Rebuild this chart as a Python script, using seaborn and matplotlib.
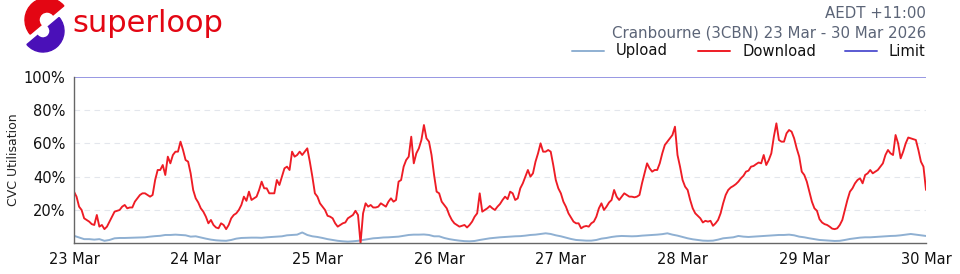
import numpy as np
import pandas as pd
import matplotlib
matplotlib.use("Agg")
import matplotlib.pyplot as plt
import matplotlib.dates as mdates
from matplotlib.patches import Wedge
from matplotlib.lines import Line2D
import seaborn as sns

# ---------------- data (half-hourly download %, hourly upload %) ----------------
download_d1 = [31, 28, 22, 20, 15, 14, 13, 11.5, 11, 17, 10, 11, 8.5, 10, 13, 16,
               19, 19.5, 20, 22, 23, 21, 21.5, 21.5, 25, 27, 29, 30, 30, 29, 28, 29,
               38, 44, 44, 47, 41, 52, 48, 53, 55, 55, 61, 56, 50, 49, 42, 32]
download_d2 = [27, 24.5, 21, 19, 16, 12, 14, 11, 9.5, 9, 12, 11, 8.5, 11, 15, 17,
               18, 20, 23, 28, 25.5, 31, 26, 27, 28, 32, 37, 33, 33, 30, 30, 30,
               38, 35, 40, 45, 46, 44, 55, 52, 53, 55, 53, 55, 57, 49, 40, 30]
download_d3 = [28, 24, 22, 20, 16.5, 16, 15, 12, 10, 11, 12, 12.5, 15, 16, 17, 19.5,
               17, 0, 18, 24, 22, 23, 21.5, 21.5, 22, 24, 23, 22, 25, 27, 25, 26,
               37, 38, 46, 50, 52, 64, 48, 54, 57, 62, 71, 63, 61, 53, 41, 31]
download_d4 = [30, 25, 23, 21, 17, 14, 12, 11, 10, 10.5, 11, 9.5, 11, 13, 16, 18,
               30, 19, 20, 21, 22.4, 21, 20, 22, 23.6, 26, 28, 26.5, 31, 30, 26, 27,
               33, 36, 40, 44, 40, 42, 49, 54, 60, 55, 55, 56, 55, 47, 38, 33]
download_d5 = [30, 25, 22, 18, 15.5, 13, 12, 12, 9, 10, 10.4, 10, 12, 13, 16, 21,
               24, 20, 22, 24.5, 26, 32, 28, 26, 28, 30, 29, 28, 28, 27.6, 28, 29,
               36, 42, 48, 45, 43, 44, 44, 48, 54, 59, 61, 63, 65, 70, 53, 46]
download_d6 = [38, 34, 32, 26, 21, 18, 16.5, 15, 12.5, 13.5, 13, 13.5, 10.5, 12, 14, 18,
               24, 29, 32, 33.5, 34.4, 35.5, 37, 39, 40.5, 43, 43.6, 46, 46.4, 47.5, 48.5, 48,
               53, 47, 50, 54, 64, 72, 62, 61, 61, 66, 68, 67, 63, 57, 52, 43]
download_d7 = [41, 37, 31, 25, 21, 19.5, 14.5, 12.5, 11.5, 11, 10, 8.8, 8.5, 9, 11, 14,
               20, 26, 31, 33, 36, 38, 39, 36, 41, 42, 44, 42, 43, 44, 46, 48,
               53, 56, 54, 53, 65, 60, 51, 55, 60, 63.5, 63, 62.5, 62, 56, 49, 46, 32]

upload_d1 = [4.5, 3.5, 2.5, 2.5, 2.2, 2.5, 1.5, 2, 3, 3.2, 3.2, 3.3,
             3.4, 3.5, 3.6, 4, 4.3, 4.5, 5, 5, 5.2, 5, 4.8, 4]
upload_d2 = [4.2, 3.5, 2.8, 2.2, 1.8, 1.6, 1.5, 2, 2.8, 3.2, 3.3, 3.4,
             3.4, 3.3, 3.6, 3.8, 4, 4.2, 4.8, 5, 5.2, 6.5, 5, 4.2]
upload_d3 = [3.8, 3.2, 2.5, 2, 1.5, 1.2, 1, 1.2, 1.5, 2, 2.5, 3,
             3.2, 3.5, 3.6, 3.8, 4, 4.5, 5, 5.2, 5.2, 5.3, 5, 4.2]
upload_d4 = [4.2, 3.2, 2.5, 2, 1.6, 1.3, 1.2, 1.4, 2, 2.5, 3, 3.3,
             3.6, 3.8, 4, 4.2, 4.3, 4.6, 5, 5.2, 5.6, 6, 5.6, 4.8]
upload_d5 = [4.2, 3.4, 2.6, 2, 1.8, 1.6, 1.6, 2, 2.8, 3.2, 3.8, 4.2,
             4.4, 4.3, 4.2, 4.3, 4.6, 4.8, 5, 5.2, 5.5, 6, 5.2, 4.6]
upload_d6 = [3.8, 3, 2.4, 2, 1.6, 1.5, 1.6, 2.2, 3, 3.3, 3.6, 4.4,
             4, 3.8, 4, 4.2, 4.4, 4.6, 4.8, 5, 5, 5.2, 4.8, 4]
upload_d7 = [3.6, 3, 2.5, 2, 1.8, 1.6, 1.4, 1.5, 2, 2.6, 3, 3.4,
             3.6, 3.6, 3.8, 4, 4.2, 4.4, 4.5, 4.8, 5.2, 5.6, 5.2, 4.8, 4.4]

limit_value = 100
y_ticks = [20, 40, 60, 80, 100]
start_date = "2026-03-23"
end_date = "2026-03-30"
title_tz = "AEDT +11:00"
title_site = "Cranbourne (3CBN) 23 Mar - 30 Mar 2026"
y_label = "CVC Utilisation"
series_names = ["Upload", "Download", "Limit"]

download = (download_d1 + download_d2 + download_d3 + download_d4 +
            download_d5 + download_d6 + download_d7)
upload = (upload_d1 + upload_d2 + upload_d3 + upload_d4 +
          upload_d5 + upload_d6 + upload_d7)

dl_df = pd.DataFrame({
    "time": pd.date_range(start_date, periods=len(download), freq="30min"),
    "value": download,
})
ul_df = pd.DataFrame({
    "time": pd.date_range(start_date, periods=len(upload), freq="60min"),
    "value": upload,
})

# ---------------- styling ----------------
sns.set_theme(style="white", font="DejaVu Sans")
plt.rcParams["font.family"] = ["DejaVu Sans"]
plt.rcParams["font.sans-serif"] = ["DejaVu Sans"]

c_up = "#8fb0d2"
c_dn = "#ee1c25"
c_lim = "#5a5ad2"
W, H = 960.0, 274.0

fig = plt.figure(figsize=(9.6, 2.74), dpi=100)
ax = fig.add_axes([74 / W, 1 - 243.3 / H, (926 - 74) / W, (243.3 - 76.7) / H])

sns.lineplot(data=ul_df, x="time", y="value", ax=ax, color=c_up, lw=1.4)
sns.lineplot(data=dl_df, x="time", y="value", ax=ax, color=c_dn, lw=1.35)
ax.axhline(limit_value, color=c_lim, lw=1.1, alpha=0.8)

ax.set_xlim(pd.Timestamp(start_date), pd.Timestamp(end_date))
ax.set_ylim(0, 100)
ax.set_yticks(y_ticks)
ax.set_yticklabels([f"{v}%" for v in y_ticks])
ax.xaxis.set_major_locator(mdates.DayLocator())
ax.xaxis.set_major_formatter(mdates.DateFormatter("%d %b"))
ax.set_xlabel("")
ax.set_ylabel(y_label, fontsize=9, color="#222222", labelpad=3)
ax.tick_params(axis="x", labelsize=10.5, length=4, width=0.8, color="#444444",
               pad=2, labelcolor="#111111")
ax.tick_params(axis="y", labelsize=10.5, length=0, pad=6, labelcolor="#111111")
for gv in y_ticks[:-1]:
    ax.axhline(gv, color="#e3e6ec", lw=0.8, ls=(0, (5, 4)), zorder=0)
for s in ["top", "right"]:
    ax.spines[s].set_visible(False)
for s in ["left", "bottom"]:
    ax.spines[s].set_color("#666666")
    ax.spines[s].set_linewidth(1.0)

# ---------------- header texts ----------------
fig.text(926 / W, 1 - 14 / H, title_tz, ha="right", va="center", fontsize=10.8, color="#5b6477")
fig.text(926 / W, 1 - 33 / H, title_site, ha="right", va="center", fontsize=10.8, color="#5b6477")

# manual legend (layout positions only)
legend_colors = [c_up, c_dn, c_lim]
legend_x = [572, 698, 845]
for name, col, x0 in zip(series_names, legend_colors, legend_x):
    fig.add_artist(Line2D([x0 / W, (x0 + 32) / W], [1 - 51 / H, 1 - 51 / H],
                          color=col, lw=1.4, transform=fig.transFigure))
    fig.text((x0 + 44) / W, 1 - 51 / H, name, ha="left", va="center",
             fontsize=10.6, color="#111111")

# ---------------- logo ----------------
logo_ax = fig.add_axes([0, 1 - 60 / H, 80 / W, 60 / H])
logo_ax.set_xlim(0, 80)
logo_ax.set_ylim(0, 60)
logo_ax.set_aspect("equal")
logo_ax.axis("off")
# pixel coords -> data: y_data = 60 - y_px
logo_ax.add_patch(Wedge((47, 60 - 20), 22, 40, 220, width=14, color="#e30613"))
logo_ax.add_patch(Wedge((43, 60 - 31), 21, 220, 400, width=14, color="#4a10b8"))
fig.text(72 / W, 1 - 24 / H, "superloop", fontsize=22, color="#e30613",
         ha="left", va="center")

fig.savefig("out.png", dpi=100)
